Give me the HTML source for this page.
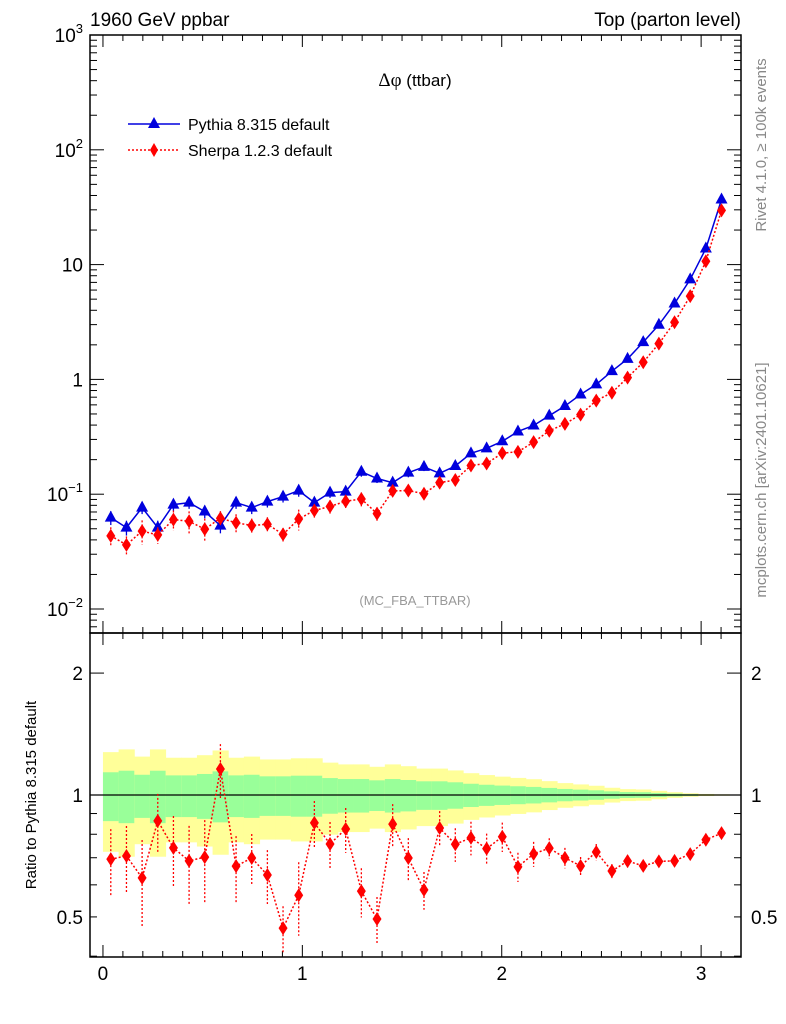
<!DOCTYPE html>
<html><head><meta charset="utf-8"><style>
html,body{margin:0;padding:0;background:#fff}
svg{display:block;font-family:"Liberation Sans",sans-serif}
</style></head><body>
<svg id="chart" width="786" height="1024" viewBox="0 0 786 1024" xmlns="http://www.w3.org/2000/svg">
<text x="90" y="26" font-size="19">1960 GeV ppbar</text>
<text x="741" y="26" font-size="19" text-anchor="end">Top (parton level)</text>
<text x="415" y="86" font-size="17" text-anchor="middle"><tspan font-family="'Liberation Serif',serif" font-size="19">Δφ</tspan> (ttbar)</text>
<text x="415" y="605" font-size="13" fill="#999" text-anchor="middle">(MC_FBA_TTBAR)</text>
<text transform="translate(766,145) rotate(-90)" font-size="15" fill="#888" text-anchor="middle">Rivet 4.1.0, ≥ 100k events</text>
<text transform="translate(766,480) rotate(-90)" font-size="15" fill="#888" text-anchor="middle">mcplots.cern.ch [arXiv:2401.10621]</text>
<text transform="translate(36,795) rotate(-90)" font-size="15" text-anchor="middle">Ratio to Pythia 8.315 default</text>
<g id="legend">
<g>
<line x1="128" y1="124" x2="180" y2="124" stroke="#0000dd" stroke-width="1.5"/>
<polygon points="154,117 160,128 148,128" fill="#0000dd"/>
<text x="188" y="130" font-size="16">Pythia 8.315 default</text></g>
<g>
<line x1="128" y1="150" x2="180" y2="150" stroke="#f00" stroke-width="1.5" stroke-dasharray="2,2"/>
<polygon points="154,143 158,150 154,157 150,150" fill="#f00"/>
<text x="188" y="156" font-size="16">Sherpa 1.2.3 default</text></g>
</g>
</svg>
<script>
const pythia=[0.0625,0.0512,0.0764,0.0512,0.0812,0.0845,0.0706,0.0533,0.0845,0.0764,0.0862,0.0953,0.1075,0.0845,0.1033,0.1053,0.157,0.137,0.126,0.154,0.173,0.152,0.176,0.227,0.251,0.289,0.352,0.397,0.483,0.586,0.738,0.904,1.18,1.51,2.11,2.99,4.58,7.43,13.8,36.9];
const sherpa=[0.0434,0.0362,0.0477,0.0442,0.0601,0.0581,0.0496,0.0618,0.0564,0.0534,0.0547,0.0447,0.0608,0.0721,0.0782,0.0868,0.0909,0.0677,0.1068,0.1076,0.1009,0.126,0.133,0.178,0.185,0.228,0.234,0.284,0.357,0.410,0.493,0.654,0.766,1.037,1.41,2.05,3.15,5.31,10.7,29.7];
const pythiaErr=[0.138,0.148,0.122,0.148,0.118,0.118,0.127,0.144,0.118,0.122,0.112,0.112,0.116,0.116,0.101,0.095,0.095,0.087,0.095,0.089,0.081,0.081,0.075,0.066,0.060,0.055,0.051,0.047,0.041,0.035,0.031,0.027,0.021,0.017,0.016,0.012,0.008,0.005,0.003,0.002];
const sherpaErr=[0.186,0.186,0.24,0.166,0.199,0.22,0.234,0.152,0.186,0.146,0.152,0.133,0.206,0.133,0.133,0.127,0.139,0.133,0.12,0.12,0.107,0.101,0.095,0.095,0.089,0.083,0.083,0.071,0.058,0.058,0.052,0.046,0.04,0.035,0.023,0.023,0.023,0.017,0.017,0.017];
const xTicks=[0,1,2,3];
const topTicks=[[1000,"10","3"],[100,"10","2"],[10,"10",""],[1,"1",""],[0.1,"10","−1"],[0.01,"10","−2"]];
const ratioTicks=[[2,"2"],[1,"1"],[0.5,"0.5"]];

const NS="http://www.w3.org/2000/svg";
const svg=document.getElementById('chart');
const L=90,R=741,T1=35,B1=633,T2=633,B2=957;
const X0=-0.065,X1=3.2;
const xs=v=>L+(v-X0)/(X1-X0)*(R-L);
const ys=v=>609-(Math.log10(v)+2)*114.8;
const yr=v=>795-Math.log10(v)*405;
const N=pythia.length,W=Math.PI/N;
function el(tag,attrs,parent){const e=document.createElementNS(NS,tag);for(const k in attrs)e.setAttribute(k,attrs[k]);(parent||svg).appendChild(e);return e;}

// bands
const band=el('g',{});


for(let i=0;i<N;i++){
  const x0=xs(i*W),x1=xs((i+1)*W),s=pythiaErr[i];
  const y=el('rect',{x:x0,y:yr(1+2*s),width:x1-x0+0.5,height:yr(1-2*s)-yr(1+2*s),fill:'#ffff99'},band);
  
  
  const g=el('rect',{x:x0,y:yr(1+s),width:x1-x0+0.5,height:yr(1-s)-yr(1+s),fill:'#99ff99'},band);
  
  
}
const ref=el('line',{x1:L,x2:R,y1:yr(1),y2:yr(1),stroke:'#000','stroke-width':1.3});



// frames
for(const [t,b,n] of [[T1,B1,'main-plot-frame'],[T2,B2,'ratio-plot-frame']]){
  const f=el('rect',{x:L,y:t,width:R-L,height:b-t,fill:'none',stroke:'#000','stroke-width':1.5});
  
  
}
// x ticks
const ax=el('g',{stroke:'#000','stroke-width':1});


for(let v=0;v<=3.2001;v+=0.1){
  const x=xs(v),maj=Math.abs(v-Math.round(v))<1e-6,len=maj?12:6;
  for(const [t,b] of [[T1,B1],[T2,B2]]){
    el('line',{x1:x,x2:x,y1:b,y2:b-len},ax);el('line',{x1:x,x2:x,y1:t,y2:t+len},ax);
  }
}
xTicks.forEach(v=>{const t=el('text',{x:xs(v),y:980,'font-size':19,'text-anchor':'middle'});t.textContent=v;

});
// top y ticks
const ay=el('g',{stroke:'#000','stroke-width':1});


for(let d=-3;d<3;d++)for(let m=1;m<10;m++){
  const v=m*Math.pow(10,d),y=ys(v);if(y<T1||y>B1)continue;const len=m==1?14:7;
  el('line',{x1:L,x2:L+len,y1:y,y2:y},ay);el('line',{x1:R,x2:R-len,y1:y,y2:y},ay);
}
topTicks.forEach(([v,b,e])=>{const t=el('text',{x:83,y:ys(v)+7,'font-size':19,'text-anchor':'end'});
t.innerHTML=b+(e?'<tspan dy="-9" font-size="13">'+e+'</tspan>':'');

});
// ratio y ticks
const minorR=[0.4,0.5,0.6,0.7,0.8,0.9,1,2];
minorR.forEach(v=>{const y=yr(v),len=(v==1||v==2)?14:7;el('line',{x1:L,x2:L+len,y1:y,y2:y},ay);el('line',{x1:R,x2:R-len,y1:y,y2:y},ay);});
ratioTicks.forEach(([v,s])=>{for(const [x,a] of [[83,'end'],[751,'start']]){const t=el('text',{x:x,y:yr(v)+7,'font-size':19,'text-anchor':a});t.textContent=s;

}});

// series
function series(vals,errs,yf,color,dash,shape,name){
  const g=el('g',{});
  
  
  const pts=vals.map((v,i)=>[xs((i+0.5)*W),yf(v)]);
  el('polyline',{points:pts.map(p=>p.join(',')).join(' '),fill:'none',stroke:color,'stroke-width':1.5,'stroke-dasharray':dash||''},g);
  vals.forEach((v,i)=>{const x=pts[i][0];
    el('line',{x1:x,x2:x,y1:yf(v*(1+errs[i])),y2:yf(v*(1-errs[i])),stroke:color,'stroke-width':1.3,'stroke-dasharray':dash||''},g);
    const y=pts[i][1];
    const m=el('polygon',{points:shape=='tri'?`${x},${y-7} ${x+6},${y+4} ${x-6},${y+4}`:`${x},${y-7} ${x+4.5},${y} ${x},${y+7} ${x-4.5},${y}`,fill:color},g);
    
    
  });
}
series(pythia,pythiaErr,ys,'#0000dd','', 'tri','pythia-series');
series(sherpa,sherpaErr,ys,'#ff0000','2,2','dia','sherpa-series');
const ratio=sherpa.map((v,i)=>v/pythia[i]);
series(ratio,sherpaErr,yr,'#ff0000','2,2','dia','sherpa-ratio-series');
svg.appendChild(document.getElementById('legend'));
</script>
</body></html>
